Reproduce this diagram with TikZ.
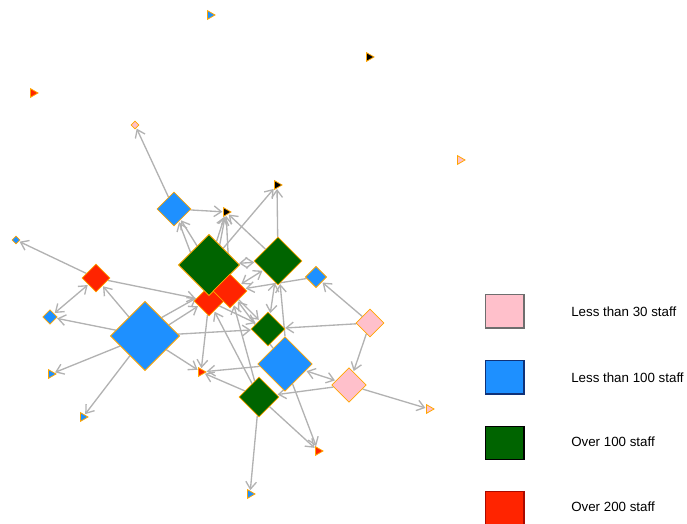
\documentclass[tikz,border=0pt]{standalone}
\usepackage{fontspec}
\setmainfont{Liberation Sans}
\usepackage{tikz}
\usetikzlibrary{shapes.geometric,arrows.meta}
\tikzset{every picture/.style={line width=0.75pt}}
\pgfdeclarelayer{links}
\pgfsetlayers{links,main}

\definecolor{firmEdge}{RGB}{255,165,0}
\definecolor{linkGrey}{RGB}{178,178,178}
\definecolor{staffPink}{RGB}{255,192,203}
\definecolor{staffBlue}{RGB}{30,144,255}
\definecolor{staffGreen}{RGB}{0,100,0}
\definecolor{staffRed}{RGB}{255,36,0}
\definecolor{keyPink}{RGB}{110,110,110}
\definecolor{keyBlue}{RGB}{16,50,120}
\definecolor{keyRed}{RGB}{170,10,0}

\tikzset{
  firm/.style={diamond, draw=firmEdge, line width=0.6pt, inner sep=0pt, minimum size=#1},
  lone/.style={regular polygon, regular polygon sides=3, shape border rotate=-90, draw=firmEdge, line width=0.6pt, inner sep=0pt, minimum size=7.5pt},
  link/.style={draw=linkGrey, line width=1pt, -{Straight Barb[length=5.5pt,width=8pt]}, shorten >=0.5pt},
  twoway/.style={link, {Straight Barb[length=5.5pt,width=8pt]}-{Straight Barb[length=5.5pt,width=8pt]}, shorten <=0.5pt},
  keybox/.style={rectangle, line width=1pt, minimum width=29pt, minimum height=25pt, inner sep=0pt},
  keytext/.style={anchor=west, inner sep=0pt, font=\fontsize{10pt}{12pt}\selectfont}
}

\begin{document}
\begin{tikzpicture}[x=0.75pt,y=0.75pt,yscale=-1,xscale=1]
\useasboundingbox (0,0) rectangle (687,524);

%Shape: Triangle [lone firms]
\node [lone, fill=staffBlue] (tA) at (210,15) {};
\node [lone, fill=black] (tB) at (369,57) {};
\node [lone, fill=staffRed] (tC) at (33,93) {};
\node [lone, fill=staffPink] (tD) at (460,160) {};
\node [lone, fill=black] (tE) at (277,185) {};
\node [lone, fill=black] (tF) at (226,212) {};
\node [lone, fill=staffBlue] (tG) at (51,374) {};
\node [lone, fill=staffBlue] (tH) at (83,417) {};
\node [lone, fill=staffRed] (tI) at (201,372) {};
\node [lone, fill=staffPink] (tJ) at (429,409) {};
\node [lone, fill=staffRed] (tK) at (318,451) {};
\node [lone, fill=staffBlue] (tL) at (250,494) {};

%Shape: Diamond [firms]
\node [firm=6pt, fill=staffPink] (pS) at (135,125) {};
\node [firm=25.5pt, fill=staffBlue] (b1) at (174,209) {};
\node [firm=22.5pt, fill=staffRed] (r1) at (209,301) {};
\node [firm=46pt, fill=staffGreen] (g1) at (209,265) {};
\node [firm=25.5pt, fill=staffRed] (r2) at (230,291) {};
\node [firm=36pt, fill=staffGreen] (g2) at (278,261) {};
\node [firm=16pt, fill=staffBlue] (b2) at (316,277) {};
\node [firm=21pt, fill=staffRed] (r3) at (96,278) {};
\node [firm=11pt, fill=staffBlue] (b3) at (50,317) {};
\node [firm=6pt, fill=staffBlue] (b4) at (16,240) {};
\node [firm=52pt, fill=staffBlue] (b5) at (145,336) {};
\node [firm=25.5pt, fill=staffGreen] (g3) at (268,329) {};
\node [firm=41pt, fill=staffBlue] (b6) at (285,364) {};
\node [firm=21pt, fill=staffPink] (p1) at (370,323) {};
\node [firm=26pt, fill=staffPink] (p2) at (349,385) {};
\node [firm=30pt, fill=staffGreen] (g4) at (259,397) {};

\begin{pgfonlayer}{links}
%Straight Lines [links]
\draw [link] (b1) -- (pS);
\draw [link] (b1) -- (tF);
\draw [link] (g1) -- (b1);
\draw [link] (r1) -- (b1);
\draw [link] (g1) -- (tF);
\draw [link] (r1) -- (tF);
\draw [link] (r2) -- (tF);
\draw [link] (g2) -- (tF);
\draw [link] (g1) -- (tE);
\draw [link] (g2) -- (tE);
\draw [twoway] (g1) -- (g2);
\draw [link] (b2) -- (r2);
\draw [twoway] (r2) -- (g2);
\draw [link] (r3) -- (r1);
\draw [link] (r3) -- (b4);
\draw [twoway] (r3) -- (b3);
\draw [link] (b5) -- (r3);
\draw [link] (b5) -- (b3);
\draw [link] (b5) -- (tG);
\draw [link] (b5) -- (tH);
\draw [link] (b5.48) -- (r1.165);
\draw [link] (b5.25) -- (r1.205);
\draw [link] (b5) -- (tI);
\draw [link] (b5) -- (g3);
\draw [link] (p1) -- (g3);
\draw [link] (p1) -- (b2);
\draw [link] (p1) -- (p2);
\draw [link] (p2) -- (tJ);
\draw [twoway] (p2) -- (b6);
\draw [link] (p2) -- (g4);
\draw [link] (g4) -- (tI);
\draw [link] (b6) -- (tI);
\draw [link] (g4) -- (tL);
\draw [link] (g4) -- (tK);
\draw [link] (b6) -- (tK);
\draw [link] (g4) -- (r1);
\draw [link] (g4) -- (r2);
\draw [link] (b6) -- (r2);
\draw [link] (r1) -- (tI);
\draw [twoway] (g3) -- (g2);
\draw [link] (b6.north) -- (g2);
\draw [link] (r2) -- (g3);
\draw [link] (r1) -- (g3);
\end{pgfonlayer}

%Shape: Rectangle [key]
\node [keybox, draw=keyPink, fill=staffPink] (keyA) at (504.5,311.5) {};
\node [keybox, draw=keyBlue, fill=staffBlue] (keyB) at (504.5,377.5) {};
\node [keybox, draw=black, fill=staffGreen] (keyC) at (504.5,443) {};
\node [keybox, draw=keyRed, fill=staffRed] (keyD) at (504.5,508) {};

% Text Node
\draw (571,312) node (keyTxtA) [keytext] {Less than 30 staff};
% Text Node
\draw (571,378) node (keyTxtB) [keytext] {Less than 100 staff};
% Text Node
\draw (571,442) node (keyTxtC) [keytext] {Over 100 staff};
% Text Node
\draw (571,507) node (keyTxtD) [keytext] {Over 200 staff};

\end{tikzpicture}
\end{document}
